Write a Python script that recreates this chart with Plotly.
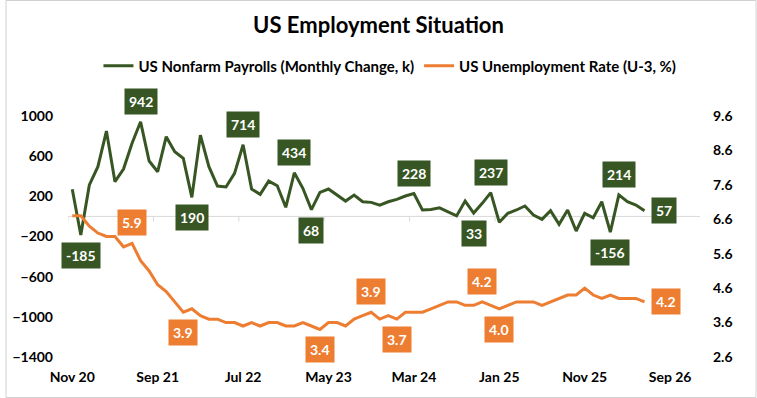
import plotly.graph_objects as go

# ---------------- data ----------------
tick_labels = ["Nov 20", "Sep 21", "Jul 22", "May 23", "Mar 24", "Jan 25", "Nov 25", "Sep 26"]
tick_step = 10          # one label every 10 months
n_slots = 74            # monthly slots on the category axis

payrolls = [270, -185, 313, 495, 850, 346, 472, 728, 942, 552, 445, 794, 645, 578, 190,
            810, 495, 303, 293, 429, 714, 273, 220, 352, 306, 91, 434, 280, 68,
            240, 273, 213, 153, 213, 146, 140, 113, 146, 170, 203, 228, 65, 70, 85,
            45, 5, 153, 33, 130, 237, -59, 31, 64, 104, 14, -29, 57, -79, 64, -145,
            31, -13, 146, -156, 214, 146, 113, 57]

unemployment = [6.7, 6.7, 6.4, 6.2, 6.1, 6.1, 5.8, 5.9, 5.4, 5.1, 4.7, 4.5, 4.2, 3.9, 4.0,
                3.8, 3.7, 3.7, 3.6, 3.6, 3.5, 3.6, 3.5, 3.6, 3.6, 3.5, 3.5, 3.6, 3.5,
                3.4, 3.6, 3.6, 3.5, 3.7, 3.8, 3.9, 3.7, 3.8, 3.7, 3.9, 3.9, 3.9, 4.0, 4.1,
                4.2, 4.2, 4.1, 4.1, 4.2, 4.1, 4.0, 4.1, 4.2, 4.2, 4.2, 4.1, 4.2, 4.3, 4.4,
                4.4, 4.6, 4.4, 4.3, 4.4, 4.3, 4.3, 4.3, 4.2]

pay_label_idx = [1, 8, 14, 20, 26, 28, 40, 47, 49, 63, 64, 67]
pay_label_pos = ["below", "above", "below", "above", "above", "below",
                 "above", "below", "above", "below", "above", "right"]
ur_label_idx = [7, 13, 29, 35, 38, 48, 50, 67]
ur_label_pos = ["above", "below", "below", "above", "below", "above", "below", "right"]

# ---------------- styling ----------------
GREEN = "#375623"
ORANGE = "#ED7D31"
AXIS_GREY = "#D9D9D9"
FONT = "Lato"

W, H = 757, 398
ML, MR, MT, MB = 63, 57, 116, 41
Y1_RANGE = [-1400, 1000]
Y2_RANGE = [2.6, 9.6]

x_idx = list(range(len(payrolls)))

fig = go.Figure()
fig.add_trace(go.Scatter(
    x=x_idx, y=payrolls, mode="lines", name="US Nonfarm Payrolls (Monthly Change, k)",
    line=dict(color=GREEN, width=3), yaxis="y"))
fig.add_trace(go.Scatter(
    x=list(range(len(unemployment))), y=unemployment, mode="lines",
    name="US Unemployment Rate (U-3, %)",
    line=dict(color=ORANGE, width=3), yaxis="y2"))

annotations = []


def add_labels(values, idxs, positions, color, yref, fmt):
    for i, pos in zip(idxs, positions):
        a = dict(x=i, y=values[i], xref="x", yref=yref, text=fmt(values[i]),
                 showarrow=False, bgcolor=color, borderpad=4,
                 font=dict(family=FONT, size=14, color="white", weight="bold"))
        if pos == "above":
            a.update(yanchor="bottom", yshift=7)
        elif pos == "below":
            a.update(yanchor="top", yshift=-7)
        else:
            a.update(xanchor="left", xshift=7)
        annotations.append(a)


add_labels(payrolls, pay_label_idx, pay_label_pos, GREEN, "y", lambda v: f"{v:d}")
add_labels(unemployment, ur_label_idx, ur_label_pos, ORANGE, "y2", lambda v: f"{v:.1f}")

# horizontal category axis drawn at zero of the left axis, with small tick marks
shapes = [dict(type="line", xref="paper", x0=0, x1=1, yref="y", y0=0, y1=0,
               line=dict(color=AXIS_GREY, width=1), layer="below")]
px_per_unit = (H - MT - MB) / (Y1_RANGE[1] - Y1_RANGE[0])
tick_len_units = 5 / px_per_unit
for k in range(len(tick_labels)):
    xt = k * tick_step - 0.5
    shapes.append(dict(type="line", xref="x", x0=xt, x1=xt, yref="y", y0=0,
                       y1=-tick_len_units, line=dict(color=AXIS_GREY, width=1), layer="below"))

# outer frame
pw, ph = W - ML - MR, H - MT - MB
shapes.append(dict(type="rect", xref="paper", yref="paper",
                   x0=(-ML + 0.5) / pw, x1=1 + (MR - 0.5) / pw,
                   y0=(-MB + 0.5) / ph, y1=1 + (MT - 0.5) / ph,
                   line=dict(color="#D0D0D0", width=1)))

fig.update_layout(
    width=W, height=H, autosize=False,
    margin=dict(l=ML, r=MR, t=MT, b=MB, pad=0),
    paper_bgcolor="white", plot_bgcolor="white",
    font=dict(family=FONT, color="black", size=14, weight="bold"),
    title=dict(text="US Employment Situation", x=0.5, xref="container", xanchor="center",
               y=1 - 25 / H, yref="container", yanchor="middle",
               font=dict(family=FONT, size=22, color="black", weight="bold")),
    showlegend=True,
    legend=dict(orientation="h", x=0.5 + 6 / pw, xanchor="center", xref="paper",
                y=1 + 50 / ph, yanchor="middle", itemwidth=30,
                font=dict(family=FONT, size=15, color="black", weight="bold"),
                bgcolor="rgba(0,0,0,0)"),
    xaxis=dict(range=[-0.5, n_slots - 0.5],
               tickvals=[k * tick_step for k in range(len(tick_labels))],
               ticktext=tick_labels, showgrid=False, zeroline=False, showline=False,
               ticks="", ticklabelstandoff=10,
               tickfont=dict(family=FONT, size=14, color="black", weight="bold")),
    yaxis=dict(range=Y1_RANGE, tick0=-1400, dtick=400, showgrid=False, zeroline=False,
               showline=False, ticks="", ticklabelstandoff=14,
               tickfont=dict(family=FONT, size=14, color="black", weight="bold")),
    yaxis2=dict(range=Y2_RANGE, tick0=2.6, dtick=1, tickformat=".1f", overlaying="y",
                side="right", showgrid=False, zeroline=False, showline=False, ticks="",
                ticklabelstandoff=12,
                tickfont=dict(family=FONT, size=14, color="black", weight="bold")),
    annotations=annotations,
    shapes=shapes,
)

fig.write_html("out.html")
